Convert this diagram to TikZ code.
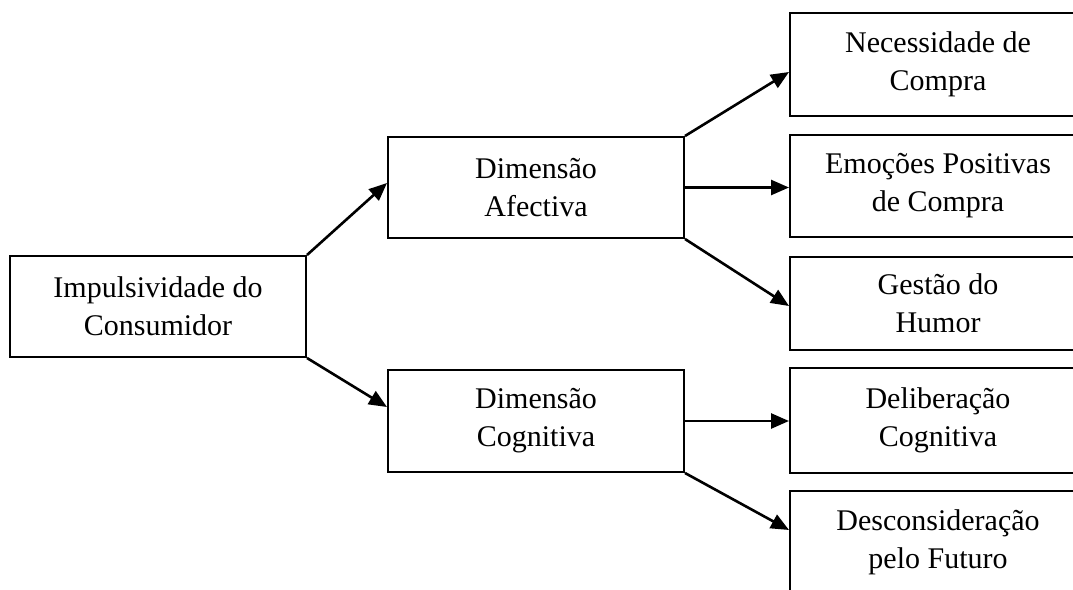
\documentclass[tikz,border=0pt]{standalone}
\usepackage{fontspec}
\setmainfont{Liberation Serif}
\usetikzlibrary{arrows.meta}
\begin{document}
\begin{tikzpicture}[x=1pt,y=-1pt,
  box/.style={draw, line width=2pt, inner sep=0pt, minimum width=296pt,
    align=center, font=\fontsize{30}{38}\selectfont},
  link/.style={line width=2.6pt, -{Triangle[length=18pt,width=15pt]}}]
\useasboundingbox (0,0) rectangle (1073,589);
\clip (0,0) rectangle (1073,589);
% root and the two dimensions
\node[box, minimum height=101pt] (imp) at (158,306.5) {Impulsividade do\\Consumidor};
\node[box, minimum height=101pt] (afe) at (536,187.5) {Dimensão\\Afectiva};
\node[box, minimum height=102pt] (cog) at (536,421) {Dimensão\\Cognitiva};
% sub-dimensions (right column, running past the page edge)
\node[box, minimum height=103pt] (nec) at (938,64.5) {Necessidade de\\Compra};
\node[box, minimum height=102pt] (emo) at (938,186) {Emoções Positivas\\de Compra};
\node[box, minimum height=93pt]  (ges) at (938,303.5) {Gestão do\\Humor};
\node[box, minimum height=105pt] (del) at (938,420.5) {Deliberação\\Cognitiva};
\node[box, minimum height=102pt] (des) at (938,542) {Desconsideração\\pelo Futuro};
% connectors
\draw[link] (imp.north east) -- ([yshift=4.5pt]afe.west);
\draw[link] (imp.south east) -- ([yshift=14pt]cog.west);
\draw[link] (afe.north east) -- ([yshift=-7.5pt]nec.west);
\draw[link] (afe.east) -- (afe.east -| emo.west);
\draw[link] (afe.south east) -- ([yshift=-2.5pt]ges.west);
\draw[link] (cog.east) -- (cog.east -| del.west);
\draw[link] (cog.south east) -- ([yshift=12pt]des.west);
\end{tikzpicture}
\end{document}
